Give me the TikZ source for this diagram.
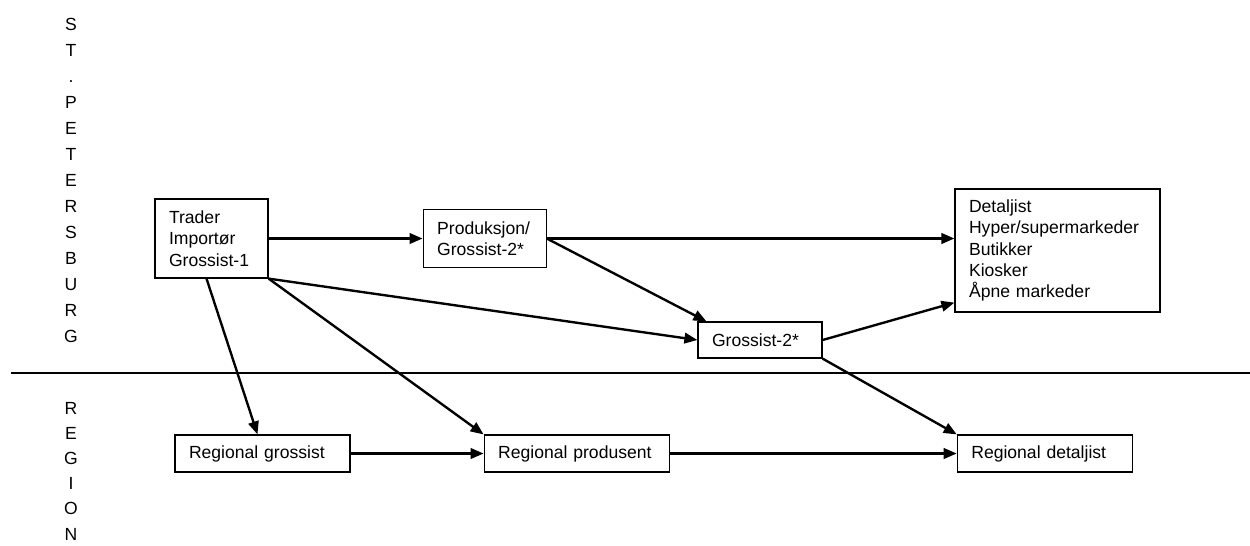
\documentclass[tikz,border=0pt]{standalone}
\usepackage{fontspec}
\setmainfont{Liberation Sans}
\usetikzlibrary{arrows.meta, positioning, calc}

\begin{document}
\begin{tikzpicture}[
    x=0.02cm, y=-0.02cm,
    font=\fontsize{10}{12.2}\selectfont,
    box/.style={rectangle, draw, line width=0.7pt, align=left, inner xsep=0.28cm, inner ysep=0pt},
    letter/.style={inner sep=0pt, anchor=base},
    arrow/.style={-{Triangle[length=0.26cm, width=0.21cm]}, line width=1.35pt}
]
\useasboundingbox (0,0) rectangle (1250,545);

\foreach \l [count=\i] in {S,T,.,P,E,T,E,R,S,B,U,R,G}
    \node[letter] (city\i) at (71,{30+26*(\i-1)}) {\l};
\foreach \l [count=\i] in {R,E,G,I,O,N}
    \node[letter] (reg\i) at (71,{414+25.2*(\i-1)}) {\l};

\draw[line width=0.6pt] (11,373) -- (1250,373);

\node[box, minimum height=1.58cm, text width=1.70cm] (trader) at (211.5,238.5) {Trader\\Importør\\Grossist-1};
\node[box, minimum height=1.16cm, text width=1.90cm, right=3.08cm of trader] (prod) {Produksjon/\\Grossist-2*};
\node[box, minimum height=2.46cm, text width=3.54cm] (detal) at (1057.5,250.5) {Detaljist\\Hyper/supermarkeder\\Butikker\\Kiosker\\Åpne markeder};
\node[box, minimum height=0.72cm, text width=1.92cm] (gros) at (760,340) {Grossist-2*};
\node[box, minimum height=0.74cm, text width=2.94cm] (rgros) at (262.5,453.5) {Regional grossist};
\node[box, minimum height=0.74cm, text width=3.14cm, right=2.66cm of rgros] (rprod) {Regional produsent};
\node[box, minimum height=0.74cm, text width=2.94cm, right=5.74cm of rprod] (rdet) {Regional detaljist};

\draw[arrow] (trader) -- (prod);
\draw[arrow] (prod) -- (prod -| detal.west);
\draw[arrow] (prod.east) -- ([xshift=0.18cm]gros.north west);
\draw[arrow] (trader.south east) -- (gros.west);
\draw[arrow] (gros.east) -- ([yshift=0.2cm]detal.south west);
\draw[arrow] (gros.south east) -- (rdet.north west);
\draw[arrow] ([xshift=-0.1cm]trader.south) -- ([xshift=-0.1cm]rgros.north);
\draw[arrow] (trader.south east) -- (rprod.north west);
\draw[arrow] (rgros) -- (rprod);
\draw[arrow] (rprod) -- (rdet);
\end{tikzpicture}
\end{document}
